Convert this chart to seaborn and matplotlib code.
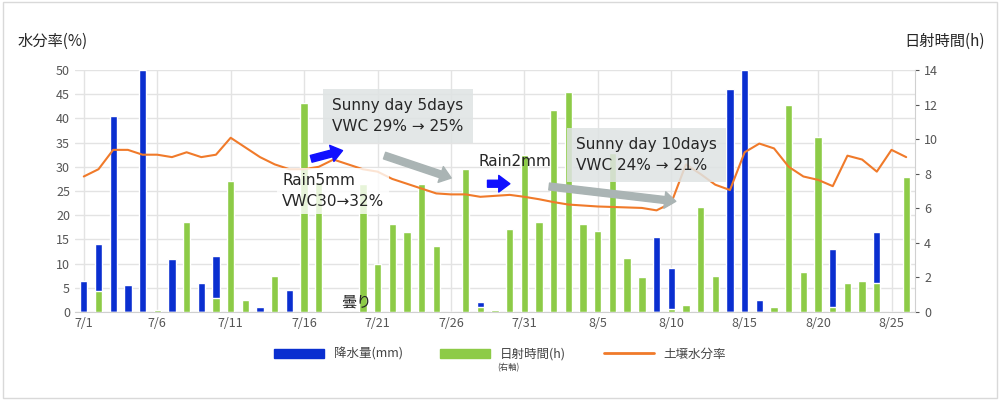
import matplotlib
matplotlib.use("Agg")
import matplotlib.pyplot as plt
import seaborn as sns
import numpy as np
import pandas as pd
from matplotlib.patches import Patch
from matplotlib.lines import Line2D

sns.set_style("white")
plt.rcParams['font.family'] = ['Noto Sans CJK JP', 'DejaVu Sans']

dates = [f"7/{d}" for d in range(1, 32)] + [f"8/{d}" for d in range(1, 27)]
rain = [6.5, 14, 40.5, 5.5, 50, 0, 11, 0, 6, 11.5, 0, 0, 1, 0, 4.5, 0, 0, 0, 0, 0,
        0, 0, 0, 0, 0, 0, 0, 2, 0, 0, 0, 0, 0, 0, 0, 0, 0, 0, 4, 15.5, 9, 0, 0, 5.5,
        46, 50, 2.5, 0, 0, 0, 3, 13, 0, 0, 16.5, 0, 0]
rain = rain[:57]
sun = [0, 1.2, 0, 0, 0, 0.1, 0, 5.2, 0, 0.8, 7.6, 0.7, 0, 2.1, 0, 12.1, 7.5, 0, 0, 7.4,
       2.8, 5.1, 4.6, 7.4, 3.8, 0, 8.3, 0.3, 0.1, 4.8, 9.1, 5.2, 11.7, 12.7, 5.1, 4.7,
       9.2, 3.1, 2.0, 0, 0.2, 0.4, 6.1, 2.1, 0, 0, 0, 0.3, 12.0, 2.3, 10.1, 0.3, 1.7,
       1.8, 1.7, 0, 7.8]
vwc = [28, 29.5, 33.5, 33.5, 32.5, 32.5, 32, 33, 32, 32.5, 36, 34, 32, 30.5, 29.5,
       29.5, 30, 31.5, 30.5, 29.5, 29, 27.5, 26.5, 25.5, 24.5, 24.3, 24.3, 23.8, 24,
       24.2, 23.8, 23.3, 22.7, 22.2, 22, 21.8, 21.7, 21.6, 21.5, 21, 22.5, 30.5, 28.5,
       26.3, 25.2, 33, 34.8, 33.8, 30, 28, 27.3, 26, 32.3, 31.5, 29, 33.5, 32]

idx = np.arange(len(dates))
df = pd.DataFrame({"i": idx, "rain": rain, "sun": sun, "vwc": vwc})

blue = "#0a2fd0"
green = "#8dcb47"
orange = "#f07a2a"

fig = plt.figure(figsize=(10, 4), dpi=100)
ax = fig.add_axes([0.075, 0.22, 0.84, 0.605])
sns.barplot(data=df, x="i", y="rain", native_scale=True, color=blue, width=0.5,
            saturation=1, ax=ax)
ax.set_ylim(0, 50)
ax.set_xlim(-0.6, 56.6)
ax.set_yticks(range(0, 51, 5))
ax.set_xticks(idx[::5])
ax.set_xticklabels(dates[::5])
ax.grid(True, color="#e3e3e3", lw=1)
ax.set_axisbelow(True)
ax.set_xlabel(""); ax.set_ylabel("")
for s in ax.spines.values():
    s.set_visible(False)
ax.spines['bottom'].set_visible(True); ax.spines['bottom'].set_color("#d0d0d0")
ax.tick_params(colors="#555555", labelsize=9, length=0)

ax2 = ax.twinx()
sns.barplot(data=df, x="i", y="sun", native_scale=True, color=green, width=0.5,
            saturation=1, ax=ax2)
ax2.set_ylim(0, 14)
ax2.set_xlim(-0.6, 56.6)
ax2.set_yticks(range(0, 15, 2))
ax2.set_ylabel("")
for s in ax2.spines.values():
    s.set_visible(False)
ax2.spines['right'].set_visible(True); ax2.spines['right'].set_color("#d0d0d0")
ax2.tick_params(colors="#555555", labelsize=9, length=3)

ax3 = ax.twinx()
sns.lineplot(data=df, x="i", y="vwc", color=orange, lw=1.5, ax=ax3)
ax3.set_ylim(0, 50)
ax3.set_xlim(-0.6, 56.6)
ax3.axis("off")

box = dict(boxstyle="square,pad=0.5", fc="#dfe3e3", ec="none", alpha=0.85)
ax3.text(16.9, 40.5, "Sunny day 5days\nVWC 29% \u2192 25%", fontsize=11, va="center",
         bbox=dict(boxstyle="square,pad=0.6", fc="#dfe3e3", ec="none", alpha=0.85),
         linespacing=1.5, family=['DejaVu Sans'])
ax3.text(33.5, 32.5, "Sunny day 10days\nVWC 24% \u2192 21%", fontsize=11, va="center",
         bbox=dict(boxstyle="square,pad=0.6", fc="#dfe3e3", ec="none", alpha=0.85),
         linespacing=1.5, family=['DejaVu Sans'])
ax3.text(13.5, 25, "Rain5mm\nVWC30\u219232%", fontsize=11, va="center", linespacing=1.5,
         bbox=dict(boxstyle="square,pad=0.3", fc="white", ec="none", alpha=0.8),
         family=['DejaVu Sans'])
ax3.text(26.9, 31, "Rain2mm", fontsize=11, va="center", family=['DejaVu Sans'])
ax3.text(17.5, 1.2, "曇り", fontsize=11)
arr_b = dict(arrowstyle="simple,head_width=1.2,head_length=0.8,tail_width=0.5",
             color="#1010ff")
arr_g = dict(arrowstyle="simple,head_width=1.2,head_length=0.8,tail_width=0.5",
             color="#aab4b4")
ax3.annotate("", xy=(17.8, 33.5), xytext=(15.3, 31.5), arrowprops=arr_b)
ax3.annotate("", xy=(29.2, 26.5), xytext=(27.3, 26.5), arrowprops=arr_b)
ax3.annotate("", xy=(25.2, 27.5), xytext=(20.3, 32.5), arrowprops=arr_g)
ax3.annotate("", xy=(40.5, 22.8), xytext=(31.5, 26), arrowprops=arr_g)

fig.text(0.018, 0.885, "水分率(%)", fontsize=11, ha="left")
fig.text(0.985, 0.885, "日射時間(h)", fontsize=11, ha="right")

handles = [Patch(color=blue), Patch(color=green), Line2D([], [], color=orange, lw=2)]
fig.legend(handles, ["降水量(mm)", "日射時間(h)", "土壌水分率"], loc="center",
           bbox_to_anchor=(0.5, 0.115), ncol=3, frameon=False, fontsize=9,
           handlelength=4, columnspacing=3, labelcolor="#444444")
fig.text(0.497, 0.075, "(右軸)", fontsize=6, color="#444444")
fig.add_artist(plt.Rectangle((0.003, 0.005), 0.994, 0.99, transform=fig.transFigure,
                             fill=False, ec="#d9d9d9", lw=1))
fig.savefig("out.png", dpi=100)
